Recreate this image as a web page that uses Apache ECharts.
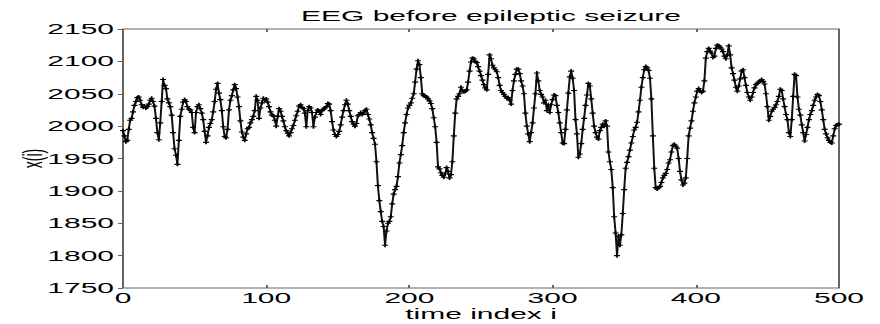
<!DOCTYPE html>
<html>
<head>
<meta charset="utf-8">
<title>EEG before epileptic seizure</title>
<script src="https://cdn.jsdelivr.net/npm/echarts@6/dist/echarts.min.js"></script>
<style>
  html, body { margin: 0; padding: 0; background: #fff; overflow: hidden; }
  /* The figure is laid out at half width and stretched 2x horizontally */
  #chart { width: 440px; height: 324px; transform: scaleX(2); transform-origin: 0 0; }
</style>
</head>
<body>
<div id="chart"></div>
<script>
// EEG samples x(i), i = 0..500
const eegValues = [
  1993,1985,1976,1978,1995,2009,2012,2022,2032,2038,
  2044,2045,2040,2033,2029,2031,2028,2030,2034,2040,
  2043,2038,2031,2012,1990,1979,2005,2038,2072,2063,
  2058,2042,2036,2030,2017,1990,1965,1955,1941,1978,
  2015,2026,2037,2041,2038,2030,2026,2025,2021,1998,
  1990,2021,2030,2033,2027,2020,2010,1992,1975,1985,
  1998,2004,2010,2022,2038,2057,2066,2051,2041,2024,
  1999,1984,1982,1995,2025,2040,2047,2056,2064,2058,
  2045,2030,2008,1991,1983,1978,1988,1996,1998,2005,
  2010,2015,2024,2046,2040,2012,2028,2036,2043,2040,
  2042,2037,2030,2022,2017,2016,2009,2000,2015,2027,
  2023,2015,2008,1999,1993,1989,1985,1990,1996,2001,
  2009,2016,2023,2031,2033,2029,2027,2020,1999,2024,
  2030,2028,2021,1999,2014,2021,2025,2023,2018,2024,
  2026,2028,2030,2035,2034,2024,2007,1994,1987,1984,
  1987,1992,2002,2014,2024,2033,2040,2034,2024,2015,
  2007,2003,2000,2004,2016,2018,2021,2018,2020,2024,
  2026,2018,2011,2002,1990,1981,1972,1945,1908,1885,
  1868,1853,1845,1816,1838,1850,1853,1860,1880,1895,
  1902,1907,1922,1943,1956,1970,1990,2005,2018,2028,
  2032,2036,2043,2050,2068,2088,2101,2095,2075,2050,
  2047,2046,2045,2042,2039,2035,2027,2013,1999,1975,
  1937,1934,1928,1924,1921,1926,1936,1930,1920,1925,
  1945,1985,2020,2042,2046,2050,2060,2055,2053,2054,
  2056,2068,2085,2099,2105,2104,2100,2098,2092,2085,
  2078,2071,2064,2059,2056,2080,2110,2104,2094,2090,
  2087,2084,2075,2063,2055,2052,2049,2046,2043,2044,
  2040,2034,2055,2070,2080,2088,2088,2081,2070,2062,
  2050,2020,2000,1988,1976,1990,2005,2028,2050,2082,
  2070,2055,2049,2045,2036,2040,2024,2033,2021,2033,
  2041,2048,2047,2032,2021,2005,1990,1974,1973,1995,
  2025,2051,2076,2085,2074,2055,2010,1988,1952,1957,
  1973,1995,2012,2032,2048,2066,2062,2042,2020,2000,
  1990,1983,1980,1993,1998,2003,2000,2008,2000,1960,
  1945,1933,1905,1860,1835,1800,1830,1816,1832,1865,
  1902,1935,1944,1953,1963,1974,1984,1994,1998,2006,
  2022,2040,2060,2075,2087,2092,2090,2086,2074,2042,
  1985,1935,1905,1903,1905,1907,1913,1920,1924,1927,
  1933,1943,1948,1960,1970,1972,1969,1966,1950,1930,
  1917,1909,1912,1920,1950,1985,1997,2008,2023,2036,
  2045,2054,2058,2055,2052,2054,2070,2105,2115,2120,
  2116,2113,2106,2108,2120,2125,2124,2122,2119,2115,
  2108,2104,2110,2124,2110,2090,2081,2071,2060,2054,
  2062,2073,2085,2087,2075,2063,2052,2045,2040,2045,
  2052,2059,2064,2066,2068,2070,2072,2069,2065,2050,
  2030,2009,2015,2023,2026,2029,2033,2038,2046,2057,
  2055,2042,2030,2018,2010,1990,1984,2010,2046,2080,
  2078,2045,2026,2017,2002,1990,1977,1987,1998,2010,
  2018,2024,2032,2040,2045,2049,2047,2038,2025,2010,
  1995,1988,1982,1978,1975,1974,1985,1996,2001,2002,2003
];

// Axis tick values
const xTicks = [0, 100, 200, 300, 400, 500];
const yTicks = [1750, 1800, 1850, 1900, 1950, 2000, 2050, 2100, 2150];

const titleText = 'EEG before epileptic seizure';
const xName = 'time index i';
const yName = 'x(i)';

const seriesData = eegValues.map((v, i) => [i, v]);

const font = 'Liberation Sans, Arial, Helvetica, sans-serif';
const frameColor = '#666';
const plainNumber = v => String(v);

const chart = echarts.init(document.getElementById('chart'), null, { renderer: 'svg' });

const gridLeft = 61.5, gridRight = 20.5;

chart.setOption({
  animation: false,
  backgroundColor: '#fff',
  title: {
    text: titleText,
    left: gridLeft + (440 - gridLeft - gridRight) / 2,
    textAlign: 'center',
    top: 3,
    textStyle: { fontFamily: font, fontSize: 15, fontWeight: 'normal', color: '#000' }
  },
  grid: {
    left: gridLeft, right: gridRight, top: 29, bottom: 36,
    containLabel: false,
    outerBoundsMode: 'none',
    show: true, borderColor: frameColor, borderWidth: 1, backgroundColor: '#fff'
  },
  xAxis: [{
    type: 'value',
    position: 'bottom',
    min: xTicks[0], max: xTicks[xTicks.length - 1],
    interval: xTicks[1] - xTicks[0],
    name: xName,
    nameLocation: 'middle',
    nameGap: 19,
    nameMoveOverlap: false,
    nameTextStyle: { fontFamily: font, fontSize: 15, lineHeight: 14, color: '#000' },
    axisLine: { show: false },
    axisTick: { show: true, inside: true, length: 3, lineStyle: { color: frameColor } },
    axisLabel: { fontFamily: font, fontSize: 15, lineHeight: 15, color: '#000', margin: 2, formatter: plainNumber },
    splitLine: { show: false }
  }, {
    type: 'value',
    position: 'top',
    min: xTicks[0], max: xTicks[xTicks.length - 1],
    interval: xTicks[1] - xTicks[0],
    axisLine: { show: false },
    axisTick: { show: true, inside: true, length: 3, lineStyle: { color: frameColor } },
    axisLabel: { show: false },
    splitLine: { show: false }
  }],
  yAxis: [{
    type: 'value',
    position: 'left',
    min: yTicks[0], max: yTicks[yTicks.length - 1],
    interval: yTicks[1] - yTicks[0],
    name: yName,
    nameLocation: 'middle',
    nameGap: 38,
    nameMoveOverlap: false,
    nameTextStyle: { fontFamily: font, fontSize: 14, color: '#000' },
    axisLine: { show: false },
    axisTick: { show: true, inside: false, length: 2.5, lineStyle: { color: frameColor } },
    axisLabel: { fontFamily: font, fontSize: 15, color: '#000', margin: 4.5, formatter: plainNumber },
    splitLine: { show: false }
  }, {
    type: 'value',
    position: 'right',
    min: yTicks[0], max: yTicks[yTicks.length - 1],
    interval: yTicks[1] - yTicks[0],
    axisLine: { show: false },
    axisTick: { show: true, inside: true, length: 2.5, lineStyle: { color: frameColor } },
    axisLabel: { show: false },
    splitLine: { show: false }
  }],
  series: [{
    type: 'line',
    xAxisIndex: 0,
    yAxisIndex: 0,
    data: seriesData,
    showAllSymbol: true,
    symbol: 'path://M5,0L5,10M0,5L10,5',
    symbolSize: [3, 4],
    itemStyle: { color: '#000', borderColor: '#000', borderWidth: 1 },
    lineStyle: { color: '#111', width: 1 },
    emphasis: { disabled: true },
    silent: true
  }]
});
</script>
</body>
</html>
